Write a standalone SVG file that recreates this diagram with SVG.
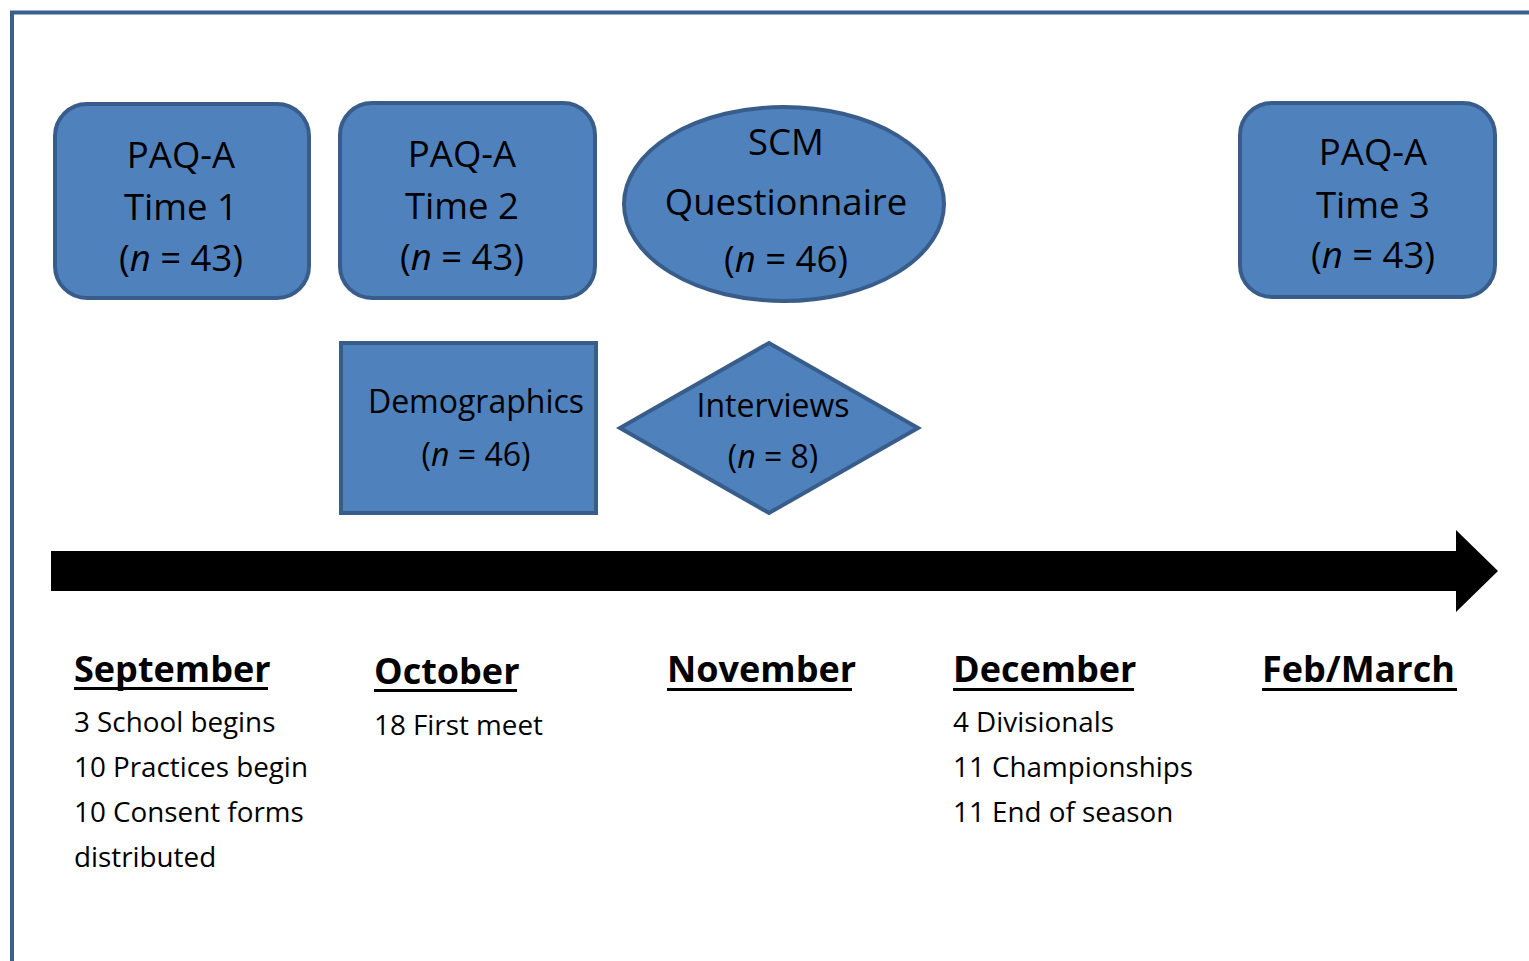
<svg xmlns="http://www.w3.org/2000/svg" width="1529" height="961" viewBox="0 0 1529 961">
  <style>
    .shape { fill: #4F81BD; stroke: #385D8A; stroke-width: 4; }
    .lbl { font-family: "Open Sans", "Liberation Sans", sans-serif; fill: #000; text-anchor: middle; }
    .big { font-size: 36.5px; }
    .mid { font-size: 32px; }
    .month { font-family: "Open Sans", "Liberation Sans", sans-serif; font-size: 36px; font-weight: bold; fill: #000; }
    .item { font-family: "Open Sans", "Liberation Sans", sans-serif; font-size: 27.8px; fill: #000; }
    .ul { stroke: #000; stroke-width: 3; }
  </style>

  <rect width="1529" height="961" fill="#fff"/>

  <!-- page frame (top and left edges) -->
  <path d="M12 961 V12.5 H1529" fill="none" stroke="#3A5F8F" stroke-width="4"/>

  <!-- measurement nodes -->
  <g id="paqa-time1">
    <rect class="shape" x="55" y="104" width="254" height="194" rx="32"/>
    <text class="lbl big" x="181" y="168">PAQ-A</text>
    <text class="lbl big" x="181" y="220">Time 1</text>
    <text class="lbl big" x="181" y="271">(<tspan font-style="italic">n</tspan> = 43)</text>
  </g>

  <g id="paqa-time2">
    <rect class="shape" x="340" y="103" width="255" height="195" rx="32"/>
    <text class="lbl big" x="462" y="167">PAQ-A</text>
    <text class="lbl big" x="462" y="219">Time 2</text>
    <text class="lbl big" x="462" y="270">(<tspan font-style="italic">n</tspan> = 43)</text>
  </g>

  <g id="scm-questionnaire">
    <ellipse class="shape" cx="784" cy="204" rx="160" ry="97"/>
    <text class="lbl big" x="786" y="155">SCM</text>
    <text class="lbl big" x="786" y="215">Questionnaire</text>
    <text class="lbl big" x="786" y="272">(<tspan font-style="italic">n</tspan> = 46)</text>
  </g>

  <g id="paqa-time3">
    <rect class="shape" x="1240" y="103" width="255" height="194" rx="32"/>
    <text class="lbl big" x="1373" y="165">PAQ-A</text>
    <text class="lbl big" x="1373" y="218">Time 3</text>
    <text class="lbl big" x="1373" y="268">(<tspan font-style="italic">n</tspan> = 43)</text>
  </g>

  <g id="demographics">
    <rect class="shape" x="341" y="343" width="255" height="170"/>
    <text class="lbl mid" x="476" y="413">Demographics</text>
    <text class="lbl mid" x="476" y="466">(<tspan font-style="italic">n</tspan> = 46)</text>
  </g>

  <g id="interviews">
    <polygon class="shape" points="620,428 769,343 918,428 769,513"/>
    <text class="lbl mid" x="773" y="417">Interviews</text>
    <text class="lbl mid" x="773" y="468">(<tspan font-style="italic">n</tspan> = 8)</text>
  </g>

  <!-- timeline axis -->
  <g id="connectors">
    <polygon points="51,551 1456,551 1456,530 1498,571 1456,612 1456,591 51,591" fill="#000"/>
  </g>

  <!-- month columns -->
  <g id="month-september">
    <text class="month" x="74" y="682">September</text>
    <line class="ul" x1="74" y1="688.5" x2="268" y2="688.5"/>
    <text class="item" x="74" y="732">3 School begins</text>
    <text class="item" x="74" y="777">10 Practices begin</text>
    <text class="item" x="74" y="822">10 Consent forms</text>
    <text class="item" x="74" y="867">distributed</text>
  </g>

  <g id="month-october">
    <text class="month" x="374" y="684">October</text>
    <line class="ul" x1="374" y1="690.5" x2="517" y2="690.5"/>
    <text class="item" x="374" y="735">18 First meet</text>
  </g>

  <g id="month-november">
    <text class="month" x="667" y="682">November</text>
    <line class="ul" x1="667" y1="689.5" x2="852" y2="689.5"/>
  </g>

  <g id="month-december">
    <text class="month" x="953" y="682">December</text>
    <line class="ul" x1="953" y1="689.5" x2="1134" y2="689.5"/>
    <text class="item" x="953" y="732">4 Divisionals</text>
    <text class="item" x="953" y="777">11 Championships</text>
    <text class="item" x="953" y="822">11 End of season</text>
  </g>

  <g id="month-febmarch">
    <text class="month" x="1262" y="682">Feb/March</text>
    <line class="ul" x1="1262" y1="689.5" x2="1457" y2="689.5"/>
  </g>
</svg>
